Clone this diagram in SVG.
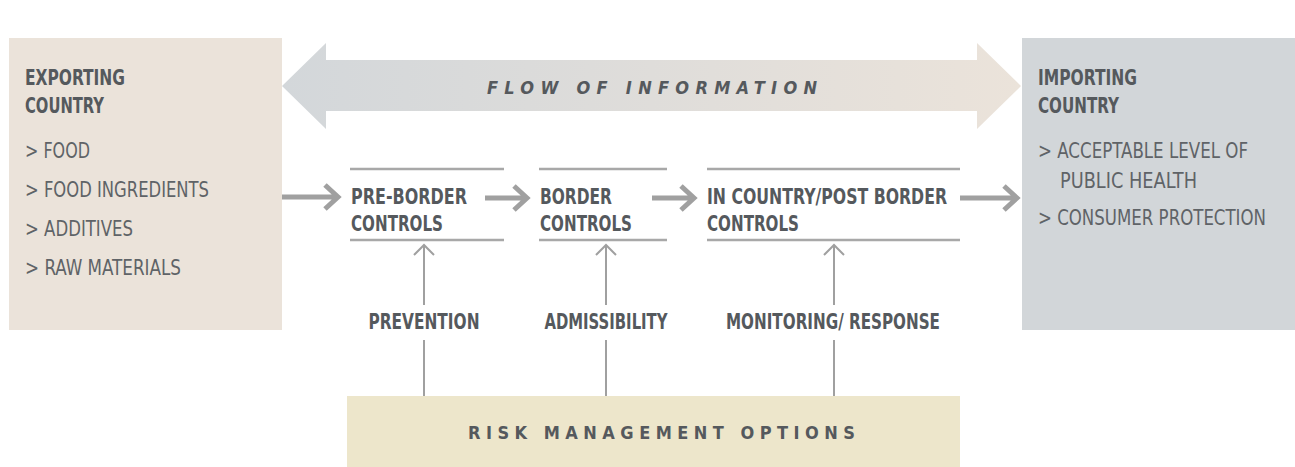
<svg xmlns="http://www.w3.org/2000/svg" width="1295" height="467" viewBox="0 0 1295 467">
<style>
text{font-family:"Liberation Sans Narrow","DejaVu Sans Condensed","Liberation Sans",sans-serif;fill:#55595d}
.h{font-weight:bold;font-size:22px}
.l{font-size:21px;fill:#5f6367}
.lab{font-weight:bold;font-size:21px}
.flow{font-weight:bold;font-style:italic;font-size:18px}
.risk{font-weight:bold;font-size:18px}
.conn{stroke:#a0a0a0;fill:none}
.thick{stroke-width:5}
.thin{stroke-width:2}
.rule{stroke:#a8a8a8;stroke-width:2.5}
</style>
<defs>
<linearGradient id="g" x1="0" y1="0" x2="1" y2="0">
<stop offset="0" stop-color="#d3d7da"/>
<stop offset="1" stop-color="#ebe3da"/>
</linearGradient>
</defs>
<g id="flow">
<polygon points="282,86 326,43 326,60 977,60 977,43 1021,86 977,129 977,111 326,111 326,129" fill="url(#g)"/>
<text class="flow" x="487" y="94" textLength="330" lengthAdjust="spacing">FLOW OF INFORMATION</text>
</g>
<g id="exporting">
<rect x="9" y="38" width="273" height="292" fill="#ebe3da"/>
<text class="h" x="25" y="85" textLength="100" lengthAdjust="spacingAndGlyphs">EXPORTING</text>
<text class="h" x="25" y="113" textLength="79" lengthAdjust="spacingAndGlyphs">COUNTRY</text>
<text class="l" x="25" y="158" textLength="65" lengthAdjust="spacingAndGlyphs">&gt; FOOD</text>
<text class="l" x="25" y="197" textLength="184" lengthAdjust="spacingAndGlyphs">&gt; FOOD INGREDIENTS</text>
<text class="l" x="25" y="236" textLength="108" lengthAdjust="spacingAndGlyphs">&gt; ADDITIVES</text>
<text class="l" x="25" y="275" textLength="156" lengthAdjust="spacingAndGlyphs">&gt; RAW MATERIALS</text>
</g>
<g id="importing">
<rect x="1022" y="38" width="273" height="292" fill="#d2d6d9"/>
<text class="h" x="1038" y="85" textLength="99" lengthAdjust="spacingAndGlyphs">IMPORTING</text>
<text class="h" x="1038" y="113" textLength="81" lengthAdjust="spacingAndGlyphs">COUNTRY</text>
<text class="l" x="1038" y="158" textLength="210" lengthAdjust="spacingAndGlyphs">&gt; ACCEPTABLE LEVEL OF</text>
<text class="l" x="1060" y="188" textLength="137" lengthAdjust="spacingAndGlyphs">PUBLIC HEALTH</text>
<text class="l" x="1038" y="225" textLength="228" lengthAdjust="spacingAndGlyphs">&gt; CONSUMER PROTECTION</text>
</g>
<g id="preborder">
<line class="rule" x1="350" y1="169" x2="504" y2="169"/>
<line class="rule" x1="350" y1="240" x2="504" y2="240"/>
<text class="lab" x="351" y="204" textLength="116" lengthAdjust="spacingAndGlyphs">PRE-BORDER</text>
<text class="lab" x="351" y="231" textLength="92" lengthAdjust="spacingAndGlyphs">CONTROLS</text>
</g>
<g id="border">
<line class="rule" x1="539" y1="169" x2="667" y2="169"/>
<line class="rule" x1="539" y1="240" x2="667" y2="240"/>
<text class="lab" x="540" y="204" textLength="72" lengthAdjust="spacingAndGlyphs">BORDER</text>
<text class="lab" x="540" y="231" textLength="92" lengthAdjust="spacingAndGlyphs">CONTROLS</text>
</g>
<g id="incountry">
<line class="rule" x1="707" y1="169" x2="960" y2="169"/>
<line class="rule" x1="707" y1="240" x2="960" y2="240"/>
<text class="lab" x="707" y="204" textLength="240" lengthAdjust="spacingAndGlyphs">IN COUNTRY/POST BORDER</text>
<text class="lab" x="707" y="231" textLength="92" lengthAdjust="spacingAndGlyphs">CONTROLS</text>
</g>
<g id="risk">
<rect x="347" y="396" width="613" height="71" fill="#ede6cb"/>
<text class="risk" x="468" y="439" textLength="387" lengthAdjust="spacing">RISK MANAGEMENT OPTIONS</text>
</g>
<g id="labels">
<text class="lab" x="424" y="329" text-anchor="middle" textLength="111" lengthAdjust="spacingAndGlyphs">PREVENTION</text>
<text class="lab" x="606" y="329" text-anchor="middle" textLength="123" lengthAdjust="spacingAndGlyphs">ADMISSIBILITY</text>
<text class="lab" x="833" y="329" text-anchor="middle" textLength="214" lengthAdjust="spacingAndGlyphs">MONITORING/ RESPONSE</text>
</g>
<g id="connectors">
<path class="conn thick" d="M282,197 H338 M325,185 L338,197 L325,209"/>
<path class="conn thick" d="M485,198 H527 M514,186 L527,198 L514,210"/>
<path class="conn thick" d="M652,198 H694 M681,186 L694,198 L681,210"/>
<path class="conn thick" d="M960,198 H1017 M1004,186 L1017,198 L1004,210"/>
<path class="conn thin" d="M424,396 V340 M424,305 V245 M414,255 L424,245 L434,255"/>
<path class="conn thin" d="M606,396 V340 M606,305 V245 M596,255 L606,245 L616,255"/>
<path class="conn thin" d="M834,396 V340 M834,305 V245 M824,255 L834,245 L844,255"/>
</g>
</svg>
